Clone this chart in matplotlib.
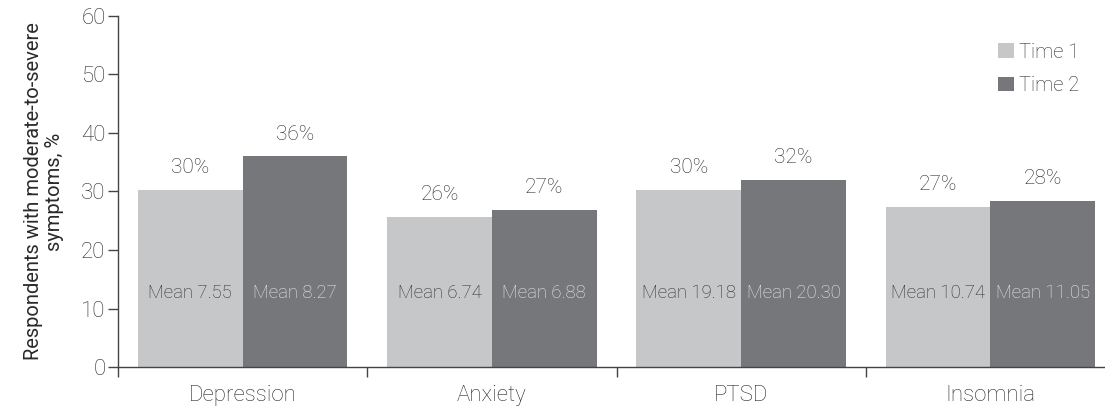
import matplotlib
matplotlib.use('Agg')
import matplotlib.pyplot as plt
import numpy as np
from matplotlib.ticker import FixedLocator

plt.rcParams['font.family'] = ['Roboto', 'DejaVu Sans']
plt.rcParams['font.weight'] = 'light'

categories = ['Depression', 'Anxiety', 'PTSD', 'Insomnia']
time1 = [30.3, 25.7, 30.2, 27.4]
time2 = [36.0, 26.9, 32.0, 28.4]
pct1 = ['30%', '26%', '30%', '27%']
pct2 = ['36%', '27%', '32%', '28%']
mean1 = ['Mean 7.55', 'Mean 6.74', 'Mean 19.18', 'Mean 10.74']
mean2 = ['Mean 8.27', 'Mean 6.88', 'Mean 20.30', 'Mean 11.05']

c_light = '#c6c7c9'
c_dark = '#76777b'
txt = '#2a2a2a'

fig = plt.figure(figsize=(11.05, 4.12), dpi=100)
ax = fig.add_axes([0.1068, 0.1092, 0.9023, 0.852])

x = np.arange(len(categories)) + 0.5
w = 0.42
b1 = ax.bar(x - w / 2, time1, w, color=c_light, label='Time 1')
b2 = ax.bar(x + w / 2, time2, w, color=c_dark, label='Time 2')

for i in range(len(categories)):
    ax.text(x[i] - w / 2, time1[i] + 2.2, pct1[i], ha='center', va='bottom', fontsize=15, color=txt)
    ax.text(x[i] + w / 2, time2[i] + 2.2, pct2[i], ha='center', va='bottom', fontsize=15, color=txt)
    ax.text(x[i] - w / 2, 12.7, mean1[i], ha='center', va='center', fontsize=13.3, color=txt)
    ax.text(x[i] + w / 2, 12.7, mean2[i], ha='center', va='center', fontsize=13.3, color='#ececec')

ax.set_xlim(0, 4)
ax.set_ylim(0, 60)
ax.set_yticks(range(0, 61, 10))
ax.xaxis.set_major_locator(FixedLocator([0, 1, 2, 3, 4]))
ax.set_xticklabels([])
ax.xaxis.set_minor_locator(FixedLocator(x))
ax.set_xticklabels(categories, minor=True)
ax.tick_params(axis='x', which='minor', length=0, pad=13, labelsize=16, labelcolor=txt)
ax.tick_params(axis='x', which='major', length=7, width=1, color='#444444')
ax.tick_params(axis='y', length=7, width=1, color='#444444', labelsize=16, labelcolor=txt, pad=2)

for s in ['top', 'right']:
    ax.spines[s].set_visible(False)
for s in ['left', 'bottom']:
    ax.spines[s].set_color('#444444')
    ax.spines[s].set_linewidth(1)

ax.set_ylabel('Respondents with moderate-to-severe\nsymptoms, %', fontsize=14.5, color=txt,
              labelpad=12, linespacing=1.15, multialignment='center')

leg = ax.legend(loc='upper right', bbox_to_anchor=(0.982, 0.975), frameon=False, fontsize=14.5,
                handlelength=0.75, handleheight=0.75, handletextpad=0.25, labelspacing=0.7)
for t in leg.get_texts():
    t.set_color(txt)

fig.savefig('out.png', dpi=100)
